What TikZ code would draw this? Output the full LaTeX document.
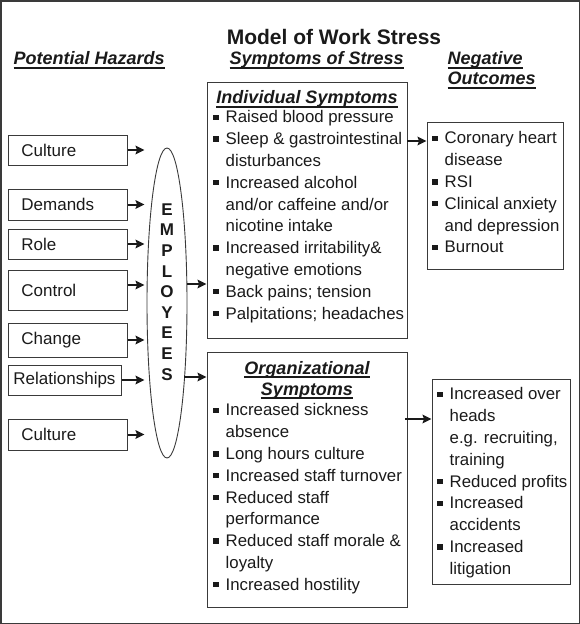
\documentclass[tikz,border=0pt]{standalone}
\usepackage{fontspec}
\setmainfont{Liberation Sans}
\usetikzlibrary{shapes.geometric,arrows.meta}
\definecolor{ink}{HTML}{1A1A1A}
\definecolor{edge}{HTML}{3A3A3A}
\newcommand\bul{\makebox[12.5pt][l]{\rule[2.8pt]{5.5pt}{5.5pt}}}
\newcommand\hbul{\hspace*{12.5pt}}
\newcommand\hdu[1]{\setbox0=\hbox{#1}\rlap{\usebox0}\rule[-4pt]{\wd0}{1.8pt}}
\begin{document}
\begin{tikzpicture}[x=1pt,y=-1pt,>={Stealth[length=9pt,width=8.5pt,inset=1.5pt]},
  every node/.style={text=ink},
  hzd/.style={draw=edge,line width=0.9pt,anchor=west,align=left,inner xsep=13pt,inner ysep=0pt,text width=93pt,font=\fontsize{17}{20}\selectfont},
  box/.style={draw=edge,line width=0.9pt,inner sep=0pt},
  head/.style={font=\bfseries\itshape\fontsize{18}{21}\selectfont},
  list/.style={anchor=north west,align=left,inner sep=0pt,font=\fontsize{16.8}{21.8}\selectfont},
  arr/.style={->,line width=2pt,draw=ink}]
\useasboundingbox (0,0) rectangle (580,624);
\draw[line width=3pt,edge] (0,0) rectangle (580,624);
\node[anchor=base,font=\bfseries\fontsize{21}{25}\selectfont] (title) at (334,44.5) {Model of Work Stress};
\node[head,anchor=base west] (hazhd) at (10,64.5) {\hdu{Potential Hazards}};
\node[head,anchor=base west] (symhd) at (226,64.5) {\hdu{Symptoms of Stress}};
\node[head,anchor=base west] (neghd) at (444,64.5) {\hdu{Negative}};
\node[head,anchor=base west] (outhd) at (444,84.5) {\hdu{Outcomes}};
% hazards
\node[hzd,minimum height=30pt] (cultA) at (8,150) {Culture};
\node[hzd,minimum height=31pt] (dem) at (8,204.5) {Demands};
\node[hzd,minimum height=30pt] (role) at (8,244) {Role};
\node[hzd,minimum height=40pt] (ctrl) at (8,290) {Control};
\node[hzd,minimum height=34pt] (chg) at (8,340) {Change};
\node[hzd,minimum height=30pt,inner xsep=5pt,text width=103pt] (rel) at (8,380) {Relationships};
\node[hzd,minimum height=31pt] (cultB) at (8,434.5) {Culture};
% employees
\node[ellipse,draw=edge,line width=0.9pt,minimum width=40pt,minimum height=310pt,inner sep=0pt] (emp) at (167,303) {};
\node[align=center,font=\bfseries\fontsize{17}{20.6}\selectfont] (emptxt) at (167,292) {E\\M\\P\\L\\O\\Y\\E\\E\\S};
\foreach \n in {cultA,dem,role,chg,rel,cultB}
  \draw[arr,shorten >=2pt] (\n.east) -- (emp.west |- \n.east);
\coordinate (ctrlout) at ([yshift=5pt]ctrl.east);
\draw[arr,shorten >=2pt] (ctrlout) -- (emp.west |- ctrlout);
% symptoms
\node[box,minimum width=200pt,minimum height=256pt] (indiv) at (307,210) {};
\node[head,anchor=base] (indivhd) at (307,103.5) {\hdu{Individual Symptoms}};
\node[list] (indivtxt) at (213,110.5) {\bul Raised blood pressure\\
\bul Sleep \& gastrointestinal\\
\hbul disturbances\\
\bul Increased alcohol\\
\hbul and/or caffeine and/or\\
\hbul nicotine intake\\
\bul Increased irritability\&\\
\hbul negative emotions\\
\bul Back pains; tension\\
\bul Palpitations; headaches};
\node[box,minimum width=200pt,minimum height=255pt] (org) at (307,479.5) {};
\node[head,anchor=north,align=center] (orghd) at (307,357.5) {\hdu{Organizational}\\\hdu{Symptoms}};
\node[list] (orgtxt) at (213,403.5) {\bul Increased sickness\\
\hbul absence\\
\bul Long hours culture\\
\bul Increased staff turnover\\
\bul Reduced staff\\
\hbul performance\\
\bul Reduced staff morale \&\\
\hbul loyalty\\
\bul Increased hostility};
\coordinate (empA) at ([yshift=19pt]emp.east);
\coordinate (empB) at ([xshift=-3pt,yshift=-74pt]emp.east);
\draw[arr] (empA) -- (indiv.west |- empA);
\draw[arr] (empB) -- (org.west |- empB);
% outcomes
\node[box,minimum width=136pt,minimum height=147pt] (outA) at (495,195.5) {};
\node[list] (outAtxt) at (432,131.5) {\bul Coronary heart\\
\hbul disease\\
\bul RSI\\
\bul Clinical anxiety\\
\hbul and depression\\
\bul Burnout};
\node[box,minimum width=138pt,minimum height=205pt] (outB) at (501,481.5) {};
\node[list] (outBtxt) at (437,387.5) {\bul Increased over\\
\hbul heads\\
\hbul e.g. recruiting,\\
\hbul training\\
\bul Reduced profits\\
\bul Increased\\
\hbul accidents\\
\bul Increased\\
\hbul litigation};
\coordinate (indivout) at ([yshift=69pt]indiv.east);
\coordinate (orgout) at ([xshift=-2pt,yshift=60.5pt]org.east);
\draw[arr] (indivout) -- (outA.west |- indivout);
\draw[arr] (orgout) -- (outB.west |- orgout);
\end{tikzpicture}
\end{document}
